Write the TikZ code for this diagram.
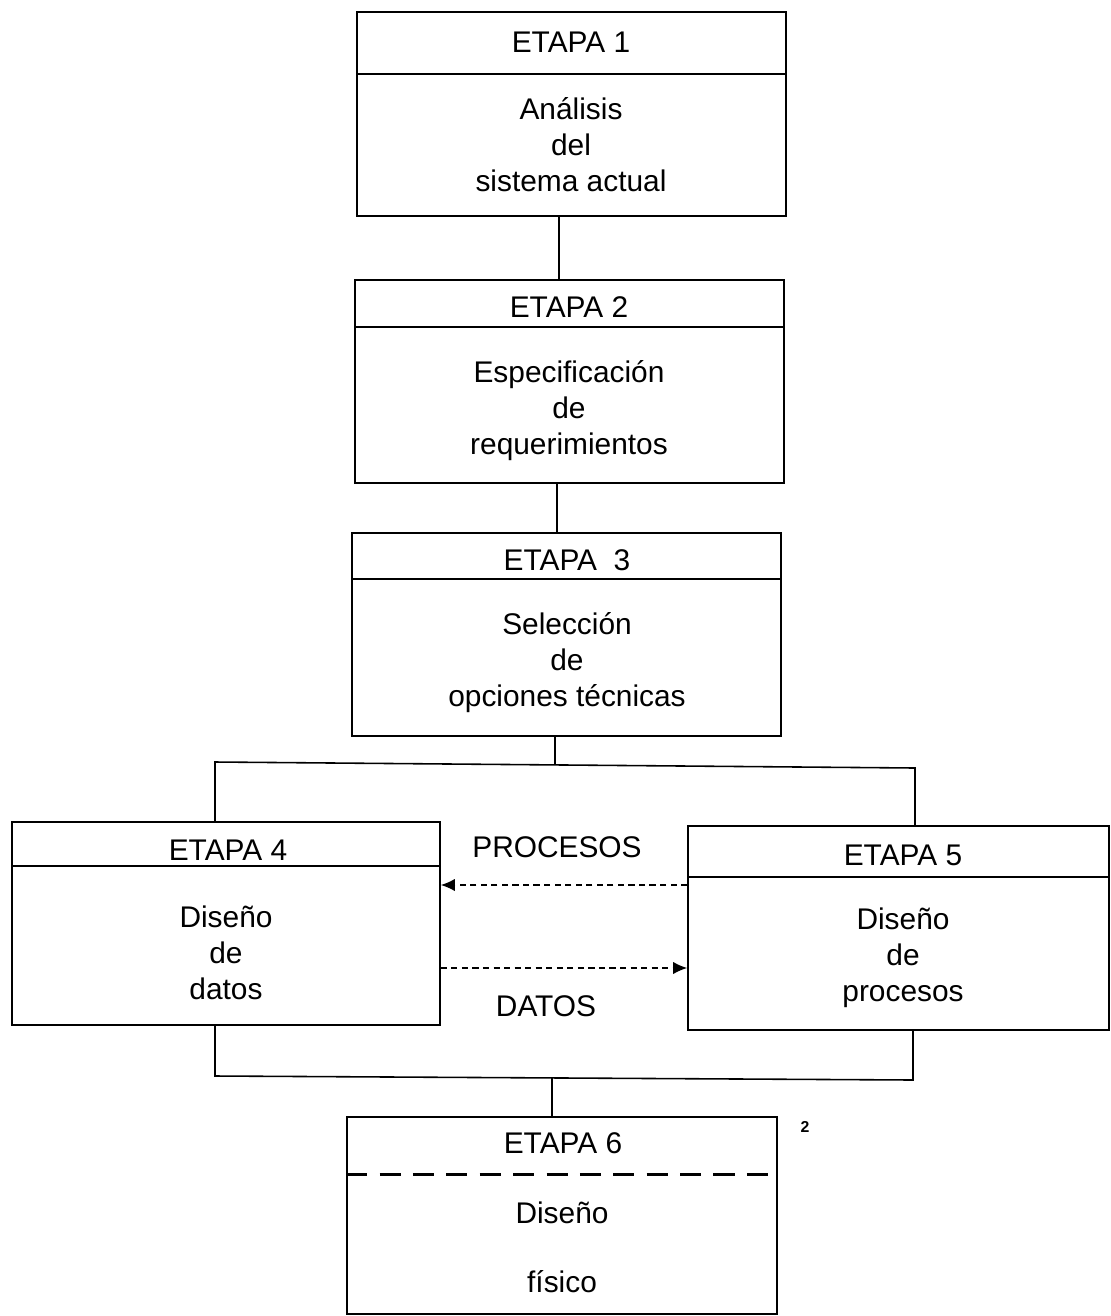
\documentclass[tikz,border=0pt]{standalone}
\usepackage{fontspec}
\setmainfont{Liberation Sans}
\usetikzlibrary{arrows.meta}
\tikzset{
  caja/.style = {draw=black, line width=0.9pt, rectangle, inner sep=0pt},% caja de etapa
  titulo/.style = {align=center, inner sep=0pt, font=\fontsize{17}{20}\selectfont},
  cuerpo/.style = {align=center, inner sep=0pt, font=\fontsize{17}{20.5}\selectfont},
  enlace/.style = {draw=black, line width=0.9pt},% conexiones entre etapas
  flujo/.style = {draw=black, line width=0.8pt, dash pattern=on 3.5pt off 2.5pt,
    -{Latex[length=8pt,width=7pt]}}% flujo de procesos/datos
}
\begin{document}
\begin{tikzpicture}[x=0.02cm,y=-0.02cm]
  \useasboundingbox (0,0) rectangle (1111,1316);
  % etapas
  \node [caja, minimum width=429*0.02cm, minimum height=204*0.02cm] (e1) at (571.5,114) {};
  \node [caja, minimum width=429*0.02cm, minimum height=203*0.02cm] (e2) at (569.5,381.5) {};
  \node [caja, minimum width=429*0.02cm, minimum height=203*0.02cm] (e3) at (566.5,634.5) {};
  \node [caja, minimum width=428*0.02cm, minimum height=203*0.02cm] (e4) at (226,923.5) {};
  \node [caja, minimum width=421*0.02cm, minimum height=204*0.02cm] (e5) at (898.5,928) {};
  \node [caja, minimum width=430*0.02cm, minimum height=197*0.02cm] (e6) at (562,1215.5) {};
  % separadores
  \draw [enlace] ([yshift=-63*0.02cm]e1.north west) -- ([yshift=-63*0.02cm]e1.north east);
  \draw [enlace] ([yshift=-48*0.02cm]e2.north west) -- ([yshift=-48*0.02cm]e2.north east);
  \draw [enlace] ([yshift=-47*0.02cm]e3.north west) -- ([yshift=-47*0.02cm]e3.north east);
  \draw [enlace] ([yshift=-45*0.02cm]e4.north west) -- ([yshift=-45*0.02cm]e4.north east);
  \draw [enlace] ([yshift=-52*0.02cm]e5.north west) -- ([yshift=-52*0.02cm]e5.north east);
  \draw [enlace, line width=1.5pt, dash pattern=on 12pt off 7pt] ([yshift=-58*0.02cm]e6.north west) -- ([yshift=-58*0.02cm]e6.north east);
  % textos
  \node [titulo] (t1) at (571,42) {ETAPA 1};
  \node [cuerpo] (c1) at (571,145) {Análisis\\del\\sistema actual};
  \node [titulo] (t2) at (569,307) {ETAPA 2};
  \node [cuerpo] (c2) at (569,411) {Especificación\\de\\requerimientos};
  \node [titulo] (t3) at (567,560) {ETAPA\ \ 3};
  \node [cuerpo] (c3) at (567,663) {Selección\\de\\opciones técnicas};
  \node [titulo] (t4) at (228,850) {ETAPA 4};
  \node [cuerpo] (c4) at (226,953) {Diseño\\de\\datos};
  \node [titulo] (t5) at (903,855) {ETAPA 5};
  \node [cuerpo] (c5) at (903,958) {Diseño\\de\\procesos};
  \node [titulo] (t6) at (563,1143) {ETAPA 6};
  \node [cuerpo] (c6a) at (562,1213) {Diseño};
  \node [cuerpo] (c6b) at (562,1282) {físico};
  \node [titulo] (proc) at (557,847) {PROCESOS};
  \node [titulo] (dat) at (546,1006) {DATOS};
  \node [inner sep=0pt, font=\fontsize{9}{10}\selectfont\bfseries] (nota) at (805,1127) {2};
  % conexiones
  \coordinate (a1) at (559,216);
  \coordinate (a2) at (557,483);
  \coordinate (a3) at (555,765);
  \coordinate (a4) at (215,762);
  \coordinate (a5) at (915,768);
  \coordinate (b4) at (215,1076);
  \coordinate (b5) at (913,1080);
  \coordinate (b6) at (552,1078);
  \draw [enlace] (e1.south -| a1) -- (e2.north -| a1);
  \draw [enlace] (e2.south -| a2) -- (e3.north -| a2);
  \draw [enlace] (e3.south -| a3) -- (a3);
  \draw [enlace] (e4.north -| a4) -- (a4) -- (a5) -- (e5.north -| a5);
  \draw [enlace] (e4.south -| b4) -- (b4) -- (b5) -- (e5.south -| b5);
  \draw [enlace] (b6) -- (e6.north -| b6);
  \draw [flujo] (e5.west |- 0,885) -- (e4.east |- 0,885);
  \draw [flujo] (e4.east |- 0,968) -- (e5.west |- 0,968);
\end{tikzpicture}
\end{document}
